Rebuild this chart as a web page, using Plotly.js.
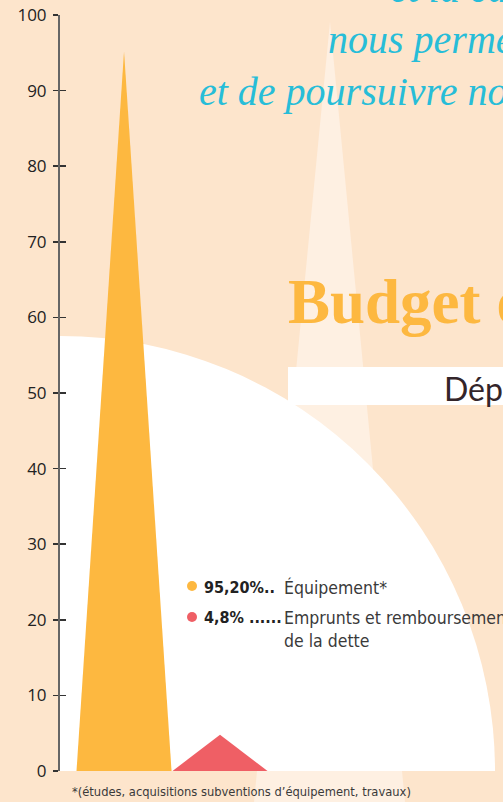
<!DOCTYPE html>
<html>
<head>
<meta charset="utf-8">
<script src="https://cdn.plot.ly/plotly-3.0.1.min.js"></script>
<style>html,body{margin:0;padding:0;background:#fde5cc;}#chart{width:503px;height:802px;}</style>
</head>
<body>
<div id="chart"></div>
<script>
// ---- data ----
var categories = ["Équipement*", "Emprunts et remboursement de la dette"];
var shares = [95.2, 4.8];
var shareLabels = ["95,20%..", "4,8% ......"];
var colors = ["#fdb840", "#ef5f65"];
var yTicks = [0, 10, 20, 30, 40, 50, 60, 70, 80, 90, 100];
var headLines = ["et la ca", "nous perme", "et de poursuivre no"];
var titleText = "Budget d";
var subtitleText = "Dépe";
var footnote = "*(études, acquisitions subventions d’équipement, travaux)";

// ---- layout geometry ----
var W = 503, H = 802, L = 60, T = 15, B = 31, R = 0;
var PW = W - L - R, PH = H - T - B;
function fx(p) { return (p - L) / PW; }
function fy(p) { return (H - B - p) / PH; }
var xr = [-0.667, 3.948];
var xu = PW / (xr[1] - xr[0]);      // px per x unit
var yu = PH / 100;                  // px per y unit

var traces = categories.map(function (c, i) {
  return {
    type: "scatter", mode: "lines", fill: "toself",
    x: [i - 0.495, i, i + 0.495, i - 0.495],
    y: [0, shares[i], 0, 0],
    line: { width: 0, color: colors[i] },
    fillcolor: colors[i],
    name: c, hoverinfo: "name+y", showlegend: false
  };
});

var rad = 435;
var shapes = [
  { type: "path", xref: "paper", yref: "paper", layer: "below",
    path: "M " + fx(330) + " " + fy(22) + " L " + fx(405) + " " + fy(802) + " L " + fx(254) + " " + fy(802) + " Z",
    fillcolor: "#fef0e2", line: { width: 0 } },
  { type: "circle", xref: "x", yref: "y", layer: "below",
    x0: xr[0] - rad / xu, x1: xr[0] + rad / xu, y0: -rad / yu, y1: rad / yu,
    fillcolor: "#ffffff", line: { width: 0 } },
  { type: "rect", xref: "paper", yref: "paper", layer: "below",
    x0: fx(288), x1: fx(510), y0: fy(405), y1: fy(367),
    fillcolor: "#ffffff", line: { width: 0 } }
];
[586, 617].forEach(function (cy, i) {
  shapes.push({ type: "circle", xref: "paper", yref: "paper", layer: "above",
    x0: fx(187), x1: fx(197), y0: fy(cy + 5), y1: fy(cy - 5),
    fillcolor: colors[i], line: { width: 0 } });
});

var cyan = "#27bdd8";
var serif = "Liberation Serif, Times New Roman, serif";
var narrow = "DejaVu Sans Condensed, Liberation Sans Narrow, Roboto, sans-serif";
var annotations = [
  { text: headLines[0], x: fx(388), y: fy(-11), xanchor: "left", yanchor: "middle",
    font: { family: serif, size: 40, color: cyan, style: "italic" } },
  { text: headLines[1], x: fx(326), y: fy(40), xanchor: "left", yanchor: "middle",
    font: { family: serif, size: 40, color: cyan, style: "italic" } },
  { text: headLines[2], x: fx(197), y: fy(91), xanchor: "left", yanchor: "middle",
    font: { family: serif, size: 40, color: cyan, style: "italic" } },
  { text: "<b>" + titleText + "</b>", x: fx(286), y: fy(302), xanchor: "left", yanchor: "middle",
    font: { family: serif, size: 63, color: "#fdb840" } },
  { text: subtitleText, x: fx(442), y: fy(388), xanchor: "left", yanchor: "middle",
    font: { family: "Lato, Noto Sans, sans-serif", size: 32, color: "#33252a" } },
  { text: "<b>" + shareLabels[0] + "</b>", x: fx(202), y: fy(587), xanchor: "left", yanchor: "middle",
    font: { family: narrow, size: 16, color: "#222222" } },
  { text: "<b>" + shareLabels[1] + "</b>", x: fx(202), y: fy(617), xanchor: "left", yanchor: "middle",
    font: { family: narrow, size: 16, color: "#222222" } },
  { text: categories[0], x: fx(282), y: fy(587), xanchor: "left", yanchor: "middle",
    font: { family: narrow, size: 17.5, color: "#3a3a3a" } },
  { text: "Emprunts et remboursement<br>de la dette", x: fx(282), y: fy(606), xanchor: "left", yanchor: "top",
    align: "left", font: { family: narrow, size: 17.5, color: "#3a3a3a" } },
  { text: footnote, x: fx(70), y: fy(791), xanchor: "left", yanchor: "middle",
    font: { family: narrow, size: 12.8, color: "#3a3a3a" } }
];
annotations.forEach(function (a) { a.xref = "paper"; a.yref = "paper"; a.showarrow = false; });

var layout = {
  width: W, height: H,
  margin: { l: L, r: R, t: T, b: B, pad: 0 },
  paper_bgcolor: "#fde5cc", plot_bgcolor: "rgba(0,0,0,0)",
  showlegend: false,
  xaxis: { range: xr, visible: false, fixedrange: true },
  yaxis: { range: [0, 100], tickvals: yTicks, ticks: "outside", ticklen: 5, tickwidth: 1.5,
    tickcolor: "#333333", showline: true, linecolor: "#666666", linewidth: 2,
    showgrid: false, zeroline: false, ticklabelstandoff: 3,
    tickfont: { family: "Open Sans, sans-serif", size: 17, color: "#222222" } },
  yaxis2: { range: [0, 100], tickvals: yTicks, ticks: "inside", ticklen: 6, tickwidth: 1.5,
    tickcolor: "#333333", overlaying: "y", side: "left", anchor: "x",
    showticklabels: false, showline: false, showgrid: false, zeroline: false },
  shapes: shapes,
  annotations: annotations
};
traces.push({ type: "scatter", x: [], y: [], yaxis: "y2", showlegend: false, hoverinfo: "skip" });

Plotly.newPlot("chart", traces, layout, { displayModeBar: false, staticPlot: true });
</script>
</body>
</html>
